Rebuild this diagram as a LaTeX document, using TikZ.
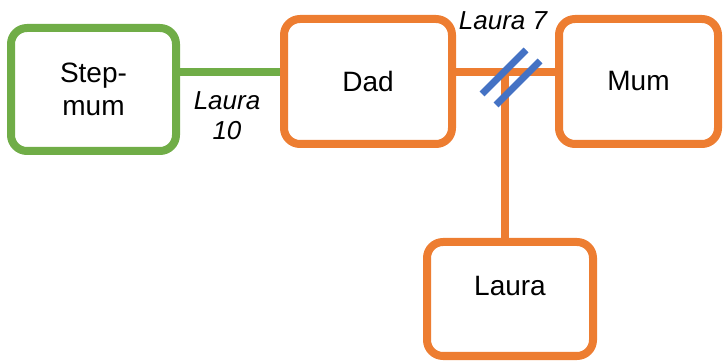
\documentclass[tikz,border=0pt]{standalone}
\usepackage{fontspec}
\setmainfont{Liberation Sans}
\definecolor{famorange}{HTML}{ED7D31}
\definecolor{famgreen}{HTML}{70AD47}
\definecolor{famblue}{HTML}{4472C4}
\begin{document}
\begin{tikzpicture}[x=1pt,y=-1pt,
  person/.style={draw, rounded corners=16pt, line width=8pt, fill=white,
    inner sep=0pt, align=center, font=\fontsize{28}{33}\selectfont},
  link/.style={line width=8pt},
  lbl/.style={inner sep=0pt, align=center, font=\fontsize{26}{30}\selectfont\itshape},
  slash/.style={famblue, line width=7pt}]
\useasboundingbox (0,0) rectangle (723,363);

% family members
\node[person, draw=famgreen, minimum width=165pt, minimum height=123pt]
  (step) at (93.5,89.5) {Step-\\mum};
\node[person, draw=famorange, minimum width=168pt, minimum height=125pt]
  (dad) at (368,81.5) {Dad};
\node[person, draw=famorange, minimum width=159pt, minimum height=125pt]
  (mum) at (638.5,81.5) {Mum};
\node[person, draw=famorange, minimum width=166pt, minimum height=114pt,
  text depth=26pt] (laura) at (510,299) {Laura};

% relationship lines
\coordinate (j) at (505,72);
\draw[link, famgreen] (step.east |- j) -- (dad.west |- j);
\draw[link, famorange] (dad.east |- j) -- (mum.west |- j);
\draw[link, famorange] (j) -- (laura.north -| j);

% separation mark on the parents' line
\draw[slash] (482,94) -- (526,50);
\draw[slash] (496,105) -- (540,61);

% ages at the events
\node[lbl] (age10) at (227,116) {Laura\\10};
\node[lbl] (age7) at (503,21) {Laura 7};
\end{tikzpicture}
\end{document}
